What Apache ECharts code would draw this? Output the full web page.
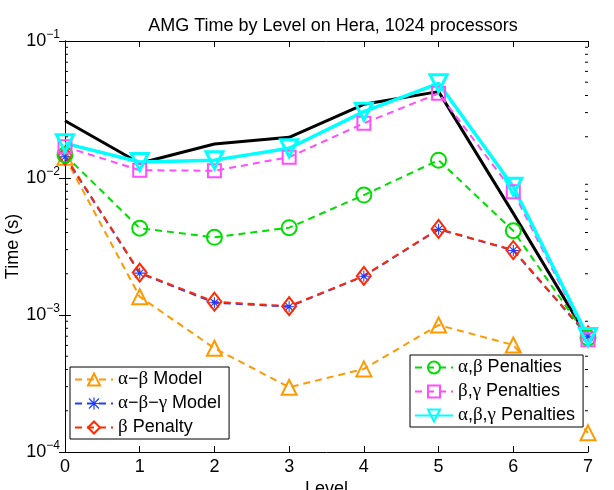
<!DOCTYPE html>
<html>
<head>
<meta charset="utf-8">
<script src="https://cdn.jsdelivr.net/npm/echarts@6/dist/echarts.min.js"></script>
<style>
  html, body { margin: 0; padding: 0; background: #fff; }
  #main { width: 614px; height: 490px; }
</style>
</head>
<body>
<div id="main"></div>
<script>
// levels on the x axis
var levels = [0, 1, 2, 3, 4, 5, 6, 7];

// time per level (s)
var measured      = [0.0262, 0.0128, 0.0177, 0.0198, 0.0345, 0.0427, 0.00552, 0.00068];
var abModel       = [0.0142, 0.00136, 0.000572, 0.000297, 0.000404, 0.000845, 0.000604, 0.000138];
var abgModel      = [0.0143, 0.00202, 0.00123, 0.00115, 0.00192, 0.00422, 0.00296, 0.00070];
var bPenalty      = [0.0145, 0.00204, 0.00125, 0.00116, 0.00193, 0.00425, 0.00298, 0.00071];
var abPenalties   = [0.0147, 0.00430, 0.00369, 0.00434, 0.00751, 0.0135, 0.00412, 0.00068];
var bgPenalties   = [0.0169, 0.0114, 0.0113, 0.0142, 0.0251, 0.0415, 0.00794, 0.00066];
var abgPenalties  = [0.0179, 0.0131, 0.0135, 0.0165, 0.0305, 0.0491, 0.00863, 0.00069];

// minor ticks of the log axis (2..9 x 10^k)
var minorTicks = [];
[-4, -3, -2].forEach(function (e) {
  [2, 3, 4, 5, 6, 7, 8, 9].forEach(function (m) { minorTicks.push(m * Math.pow(10, e)); });
});

function pairs(vals) {
  return vals.map(function (v, i) { return [levels[i], v]; });
}

var asterisk = 'path://M4.5,0h1v10h-1z M0,4.5h10v1h-10z M1.2,0.5L9.5,8.8L8.8,9.5L0.5,1.2z M8.8,0.5L9.5,1.2L1.2,9.5L0.5,8.8z';

function dashed(name, vals, color, symbol, size, extra) {
  var s = {
    name: name,
    type: 'line',
    data: pairs(vals),
    color: color,
    symbol: symbol,
    symbolSize: size,
    lineStyle: { color: color, width: 2, type: [7, 5] },
    itemStyle: { color: 'rgba(0,0,0,0)', borderColor: color, borderWidth: 2 },
    emphasis: { disabled: true },
    z: 3
  };
  for (var k in extra) s[k] = extra[k];
  return s;
}

var greek = function (name) {
  return name.replace(/([αβγ])/g, '{g|$1}');
};

var chart = echarts.init(document.getElementById('main'));

var legendBase = {
  orient: 'vertical',
  backgroundColor: '#fff',
  borderColor: '#000',
  borderWidth: 1,
  borderRadius: 0,
  padding: [3, 8, 2, 4],
  itemGap: 5,
  itemWidth: 38,
  itemHeight: 15,
  formatter: greek,
  textStyle: {
    fontFamily: 'Liberation Sans',
    fontSize: 18,
    color: '#000',
    rich: { g: { fontFamily: 'Liberation Serif', fontSize: 19, color: '#000' } }
  }
};

chart.setOption({
  animation: false,
  backgroundColor: '#fff',
  title: {
    text: 'AMG Time by Level on Hera, 1024 processors',
    left: 328,
    top: 12,
    textAlign: 'center',
    textStyle: { fontFamily: 'Liberation Sans', fontSize: 18, fontWeight: 'normal', color: '#000' }
  },
  grid: { left: 65, right: 26, top: 41, bottom: 38, outerBoundsMode: 'none' },
  xAxis: [{
    type: 'value', min: 0, max: 7, interval: 1,
    name: 'Level', nameLocation: 'middle', nameGap: 28, nameMoveOverlap: false,
    nameTextStyle: { fontFamily: 'Liberation Sans', fontSize: 18, color: '#000' },
    axisLine: { lineStyle: { color: '#000', width: 1 } },
    axisTick: { inside: true, length: 6, lineStyle: { color: '#000' } },
    axisLabel: { fontFamily: 'Liberation Sans', fontSize: 18, color: '#000', margin: 6 },
    splitLine: { show: false }
  }, {
    type: 'value', min: 0, max: 7, interval: 1, position: 'top',
    axisLine: { lineStyle: { color: '#000', width: 1 } },
    axisTick: { inside: true, length: 6, lineStyle: { color: '#000' } },
    axisLabel: { show: false },
    splitLine: { show: false }
  }],
  yAxis: [{
    type: 'log', logBase: 10, min: 1e-4, max: 1e-1,
    name: 'Time (s)', nameLocation: 'middle', nameGap: 43, nameMoveOverlap: false,
    nameTextStyle: { fontFamily: 'Liberation Sans', fontSize: 18, color: '#000' },
    axisLine: { lineStyle: { color: '#000', width: 1 } },
    axisTick: { inside: true, length: 6, lineStyle: { color: '#000' } },
    axisLabel: {
      margin: 5,
      formatter: function (v) {
        var e = Math.round(Math.log(v) / Math.LN10);
        return '{b|10}{s|' + (e < 0 ? '\u2212' : '') + Math.abs(e) + '}';
      },
      rich: {
        b: { fontFamily: 'Liberation Sans', fontSize: 18, color: '#000' },
        s: { fontFamily: 'Liberation Sans', fontSize: 12, color: '#000', padding: [0, 0, 13, 0] }
      }
    },
    splitLine: { show: false }
  }, {
    type: 'log', logBase: 10, min: 1e-4, max: 1e-1, position: 'right',
    axisLine: { lineStyle: { color: '#000', width: 1 } },
    axisTick: { inside: true, length: 6, lineStyle: { color: '#000' } },
    axisLabel: { show: false },
    splitLine: { show: false }
  }],
  legend: [
    Object.assign({}, legendBase, {
      data: ['α−β Model', 'α−β−γ Model', 'β Penalty'],
      left: 70, top: 367
    }),
    Object.assign({}, legendBase, {
      data: ['α,β Penalties', 'β,γ Penalties', 'α,β,γ Penalties'],
      left: 410, top: 355
    })
  ],
  series: [
    {
      name: 'ticks', type: 'custom', silent: true, z: 1,
      data: minorTicks.map(function (v) { return [0, v]; }),
      renderItem: function (params, api) {
        var p = api.coord([0, api.value(1)]);
        var cs = params.coordSys;
        return {
          type: 'group',
          children: [
            { type: 'line', shape: { x1: cs.x, y1: p[1], x2: cs.x + 3, y2: p[1] }, style: { stroke: '#000', lineWidth: 1 } },
            { type: 'line', shape: { x1: cs.x + cs.width, y1: p[1], x2: cs.x + cs.width - 3, y2: p[1] }, style: { stroke: '#000', lineWidth: 1 } }
          ]
        };
      }
    },
    {
      name: 'Measured', type: 'line', data: pairs(measured), symbol: 'none',
      lineStyle: { color: '#000', width: 3 }, color: '#000', z: 2,
      emphasis: { disabled: true }
    },
    dashed('α−β Model', abModel, '#ff9900', 'triangle', 15),
    dashed('α−β−γ Model', abgModel, '#1f3fff', asterisk, 11, {
      itemStyle: { color: '#1f3fff', borderWidth: 0 }
    }),
    dashed('β Penalty', bPenalty, '#ff2a00', 'diamond', [14, 18]),
    dashed('α,β Penalties', abPenalties, '#00dd00', 'circle', 15),
    dashed('β,γ Penalties', bgPenalties, '#ff4dff', 'rect', 13),
    dashed('α,β,γ Penalties', abgPenalties, '#00ffff', 'triangle', 17, {
      symbolRotate: 180,
      lineStyle: { color: '#00ffff', width: 3.5 },
      itemStyle: { color: 'rgba(0,0,0,0)', borderColor: '#00ffff', borderWidth: 3 }
    })
  ]
});
</script>
</body>
</html>
